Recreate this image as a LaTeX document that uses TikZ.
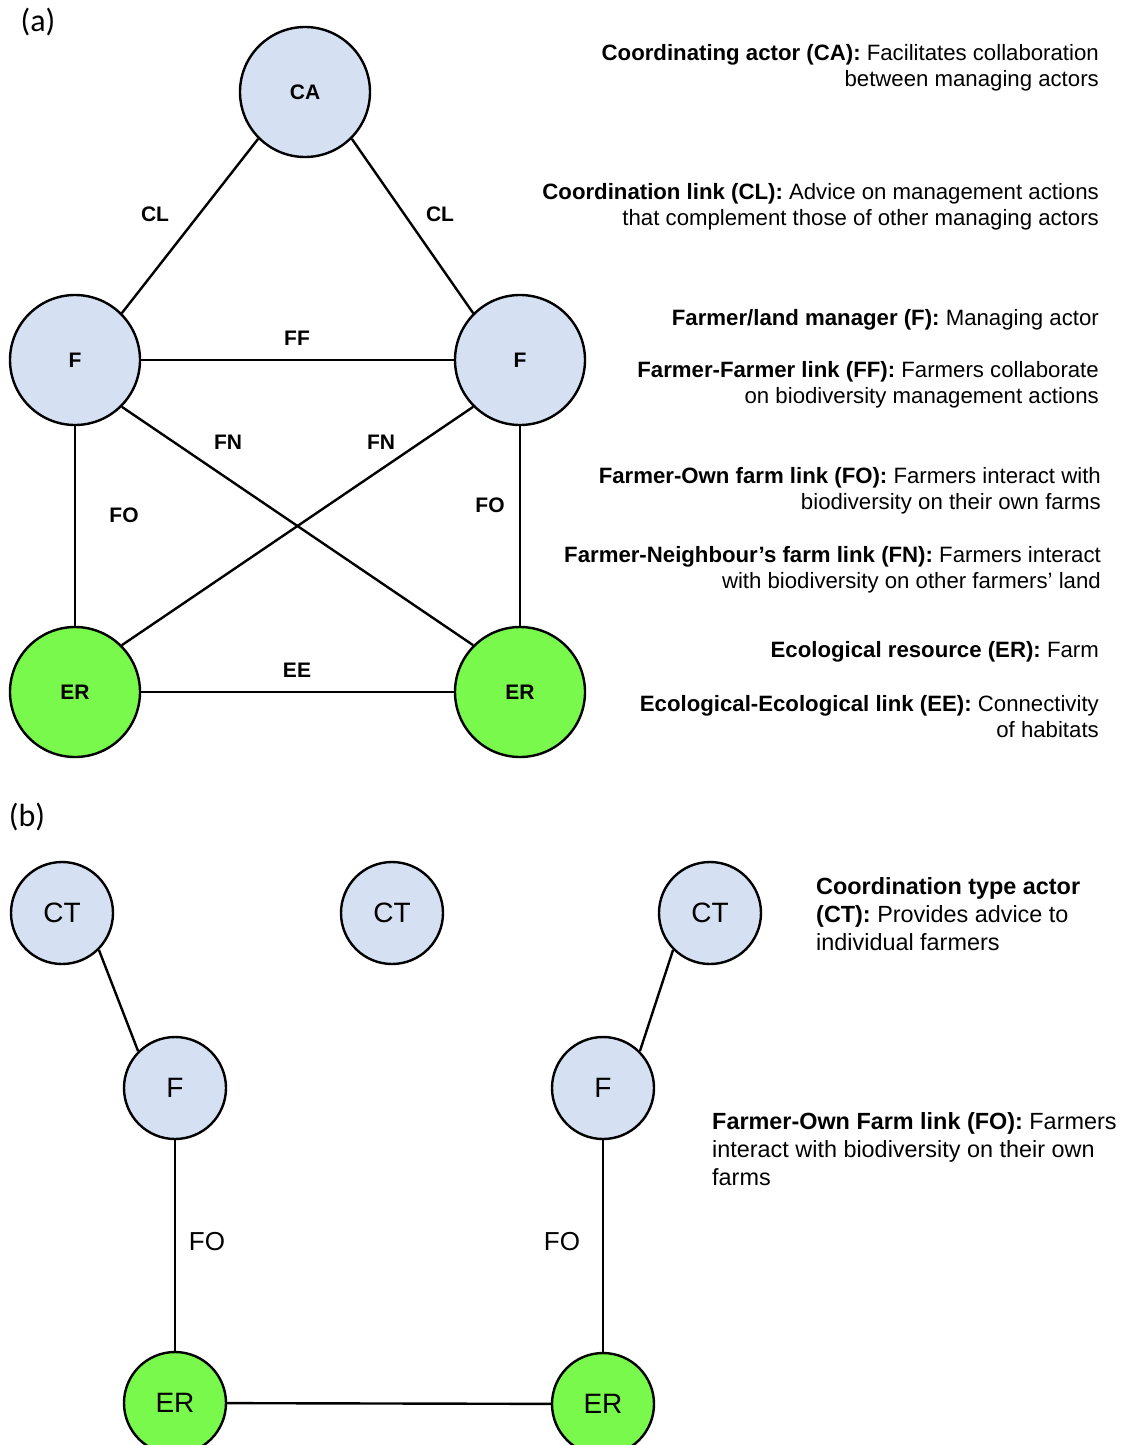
\documentclass[tikz,border=0pt]{standalone}
\usepackage{fontspec}
\setmainfont{Liberation Sans}
\newfontfamily\panelfont{Carlito}
\definecolor{actorblue}{RGB}{213,225,242}
\definecolor{farmgreen}{RGB}{120,249,76}
\begin{document}
\begin{tikzpicture}[x=0.5pt,y=-0.5pt,line width=1.2pt,
  actor/.style={circle,draw,fill=actorblue,minimum size=65pt,inner sep=0pt,font=\fontsize{10.5}{12}\selectfont\bfseries},
  farm/.style={actor,fill=farmgreen},
  smallactor/.style={circle,draw,fill=actorblue,minimum size=51pt,inner sep=0pt,font=\fontsize{14}{16}\selectfont},
  smallfarm/.style={smallactor,fill=farmgreen},
  linklabel/.style={font=\fontsize{10.5}{12}\selectfont\bfseries},
  biglinklabel/.style={font=\fontsize{13}{15}\selectfont},
  keytext/.style={anchor=east,align=right,inner sep=0pt,font=\fontsize{11.1}{13}\selectfont},
  keytextb/.style={anchor=west,align=left,inner sep=0pt,font=\fontsize{11.7}{14}\selectfont},
  panel/.style={font=\fontsize{16}{18}\panelfont}]
\clip (0,0) rectangle (1121,1445);
\useasboundingbox (0,0) rectangle (1121,1445);
\node[panel] (pa) at (38,22) {(a)};
\node[actor] (CA) at (305,92) {CA};
\node[actor] (Fl) at (75,360) {F};
\node[actor] (Fr) at (520,360) {F};
\node[farm] (ERl) at (75,692) {ER};
\node[farm] (ERr) at (520,692) {ER};
\draw (CA.-135) -- (Fl.45);
\draw (CA.-45) -- (Fr.135);
\draw (Fl) -- (Fr);
\draw (Fl) -- (ERl);
\draw (Fl.-45) -- (ERr.135);
\draw (Fr.-135) -- (ERl.45);
\draw (Fr) -- (ERr);
\draw (ERl) -- (ERr);
\node[linklabel] (cl1) at (155,214) {CL};
\node[linklabel] (cl2) at (440,214) {CL};
\node[linklabel] (ff) at (297,338) {FF};
\node[linklabel] (fn1) at (228,442) {FN};
\node[linklabel] (fn2) at (381,442) {FN};
\node[linklabel] (fo1) at (124,515) {FO};
\node[linklabel] (fo2) at (490,505) {FO};
\node[linklabel] (ee) at (297,670) {EE};
\node[keytext] (kca) at (1100,68) {\textbf{Coordinating actor (CA):} Facilitates collaboration\\between managing actors};
\node[keytext] (kcl) at (1100,207) {\textbf{Coordination link (CL):} Advice on management actions\\that complement those of other managing actors};
\node[keytext] (kf) at (1100,320) {\textbf{Farmer/land manager (F):} Managing actor};
\node[keytext] (kff) at (1100,385) {\textbf{Farmer-Farmer link (FF):} Farmers collaborate\\on biodiversity management actions};
\node[keytext] (kfo) at (1102,491) {\textbf{Farmer-Own farm link (FO):} Farmers interact with\\biodiversity on their own farms};
\node[keytext] (kfn) at (1102,570) {\textbf{Farmer-Neighbour’s farm link (FN):} Farmers interact\\with biodiversity on other farmers’ land};
\node[keytext] (ker) at (1100,652) {\textbf{Ecological resource (ER):} Farm};
\node[keytext] (kee) at (1100,717) {\textbf{Ecological-Ecological link (EE):} Connectivity\\of habitats};
\node[panel] (pb) at (27,817) {(b)};
\node[smallactor] (CTa) at (62,913) {CT};
\node[smallactor] (CTb) at (392,913) {CT};
\node[smallactor] (CTc) at (710,913) {CT};
\node[smallactor] (Fa) at (175,1088) {F};
\node[smallactor] (Fb) at (603,1088) {F};
\node[smallfarm] (ERa) at (175,1403) {ER};
\node[smallfarm] (ERb) at (603,1404) {ER};
\draw (CTa.-45) -- (Fa.135);
\draw (CTc.-135) -- (Fb.45);
\draw (Fa) -- (ERa);
\draw (Fb) -- (ERb);
\draw (ERa) -- (ERb);
\node[biglinklabel] (fo3) at (207,1242) {FO};
\node[biglinklabel] (fo4) at (562,1242) {FO};
\node[keytextb] (kct) at (815,914) {\textbf{Coordination type actor}\\\textbf{(CT):} Provides advice to\\individual farmers};
\node[keytextb] (kfob) at (711,1149) {\textbf{Farmer-Own Farm link (FO):} Farmers\\interact with biodiversity on their own\\farms};
\end{tikzpicture}
\end{document}
